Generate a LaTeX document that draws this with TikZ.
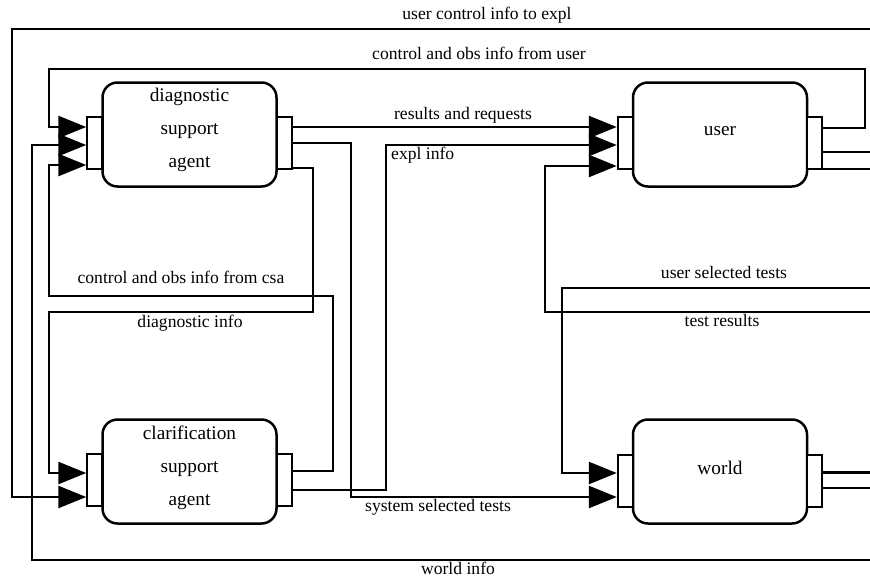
\documentclass[tikz,border=0pt]{standalone}
\usepackage{fontspec}
\setmainfont{Liberation Serif}
\usetikzlibrary{arrows.meta}

\tikzset{
  agent/.style={draw, line width=2.5pt, rounded corners=15pt, fill=white,
    minimum width=174pt, minimum height=104pt, inner sep=0pt, align=center,
    font=\fontsize{19.3}{33}\selectfont},
  port/.style={draw, line width=2pt, fill=white, minimum width=15pt,
    minimum height=52pt, inner sep=0pt},
  wire/.style={line width=2.6pt},
  feed/.style={wire, -{Triangle[length=28pt,width=22pt]}},
  tag/.style={inner sep=0pt, font=\fontsize{17.6}{20}\selectfont},
}

\begin{document}
\begin{tikzpicture}[x=1pt,y=-1pt]
\useasboundingbox (0,0) rectangle (870,579);


\node[agent, text depth=12.5pt] (dsa) at (189.5,134.5) {diagnostic\\support\\agent};
\node[agent, text depth=12.5pt] (csa) at (189.5,471.5) {clarification\\support\\agent};
\node[agent, text depth=8pt] (user) at (720,134.5) {user};
\node[agent, text depth=7pt] (world) at (720,471.5) {world};

\node[port, anchor=east] (dsaL) at ([xshift=2pt,yshift=-8pt]dsa.west) {};
\node[port, anchor=west] (dsaR) at ([xshift=-2pt,yshift=-8pt]dsa.east) {};
\node[port, anchor=east] (csaL) at ([xshift=2pt,yshift=-8pt]csa.west) {};
\node[port, anchor=west] (csaR) at ([xshift=-2pt,yshift=-8pt]csa.east) {};
\node[port, anchor=east] (userL) at ([xshift=2pt,yshift=-8pt]user.west) {};
\node[port, anchor=west] (userR) at ([xshift=-2pt,yshift=-8pt]user.east) {};
\node[port, anchor=east] (worldL) at ([xshift=2pt,yshift=-9pt]world.west) {};
\node[port, anchor=west] (worldR) at ([xshift=-2pt,yshift=-9pt]world.east) {};


\coordinate (toExpl) at (870,29);
\coordinate (fromWorld) at (870,560);
\coordinate (testRes) at (870,312);
\coordinate (userTests) at (870,288);
\coordinate (uOutA) at (870,152);
\coordinate (uOutB) at (870,169);
\coordinate (wOutA) at (870,472.5);
\coordinate (wOutB) at (870,488);


\draw[feed] (toExpl) -- (12,29) -- (12,497) -- (csaL.west |- 0,497);
\draw[feed] (userR.east |- 0,128) -- (865,128) -- (865,69) -- (49,69) -- (49,127) -- (dsaL.west |- 0,127);
\draw[feed] (fromWorld) -- (32,560) -- (32,145) -- (dsaL.west |- 0,145);
\draw[feed] (csaR.east |- 0,471) -- (333,471) -- (333,296) -- (49,296) -- (49,165) -- (dsaL.west |- 0,165);
\draw[feed] (dsaR.east |- 0,168) -- (313,168) -- (313,312) -- (49,312) -- (49,473) -- (csaL.west |- 0,473);

\draw[feed] (dsaR.east |- 0,127) -- (userL.west |- 0,127);
\draw[feed] (dsaR.east |- 0,143) -- (351,143) -- (351,497) -- (worldL.west |- 0,497);
\draw[feed] (csaR.east |- 0,490) -- (386,490) -- (386,145) -- (userL.west |- 0,145);
\draw[feed] (testRes) -- (545,312) -- (545,166) -- (userL.west |- 0,166);
\draw[feed] (userTests) -- (562,288) -- (562,473) -- (worldL.west |- 0,473);

\draw[wire] (userR.east |- uOutA) -- (uOutA);
\draw[wire] (userR.east |- uOutB) -- (uOutB);
\draw[wire] (worldR.east |- wOutA) -- (wOutA);
\draw[wire] (worldR.east |- wOutB) -- (wOutB);


\node[tag] (lToExpl) at (487,15) {user control info to expl};
\node[tag] (lFromUser) at (479,53) {control and obs info from user};
\node[tag] (lResults) at (463,115) {results and requests};
\node[tag, anchor=west] (lExpl) at (391,155) {expl info};
\node[tag] (lFromCsa) at (181,277) {control and obs info from csa};
\node[tag] (lDiag) at (190,323) {diagnostic info};
\node[tag] (lUserTests) at (724,272) {user selected tests};
\node[tag] (lTestRes) at (722,320) {test results};
\node[tag] (lSysTests) at (438,507) {system selected tests};
\node[tag] (lWorld) at (458,568) {world info};

\end{tikzpicture}
\end{document}
